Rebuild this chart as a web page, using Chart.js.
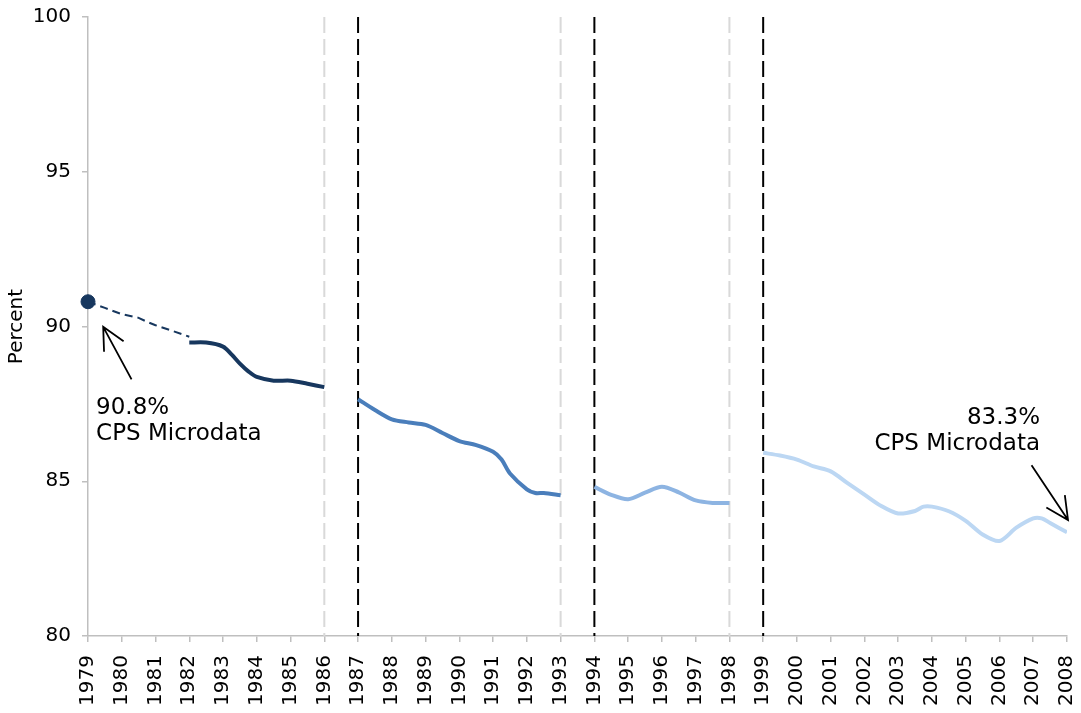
<!DOCTYPE html>
<html lang="en">
<head>
  <meta charset="UTF-8">
  <title>Percent, 1979-2008</title>
  <script src="https://cdn.jsdelivr.net/npm/chart.js@4.4.1/dist/chart.umd.min.js"></script>
  <style>
    body { margin: 0; background: #fff; }
    #wrap { width: 1081px; height: 713px; }
  </style>
</head>
<body>
  <div id="wrap"><canvas id="chart" width="1081" height="713"></canvas></div>
  <script>
    // year ticks along the bottom
    const years = [1979, 1980, 1981, 1982, 1983, 1984, 1985, 1986, 1987, 1988, 1989, 1990, 1991, 1992, 1993,
                   1994, 1995, 1996, 1997, 1998, 1999, 2000, 2001, 2002, 2003, 2004, 2005, 2006, 2007, 2008];
    const yTicks = [80, 85, 90, 95, 100];

    // 1979-1982 estimate (dashed) and the 1979 starting point
    const estYears = [1979, 1979.5, 1980, 1980.5, 1980.75, 1981, 1981.5, 1982];
    const estVals  = [90.8, 90.6, 90.4, 90.28, 90.15, 90.04, 89.86, 89.67];
    const startYear = [1979];
    const startVal  = [90.8];

    // segment 1982-1986
    const seg1Years = [1982, 1982.5, 1983, 1983.25, 1983.5, 1983.75, 1984, 1984.5, 1985, 1985.5, 1986];
    const seg1Vals  = [89.48, 89.48, 89.35, 89.1, 88.8, 88.55, 88.37, 88.25, 88.25, 88.15, 88.04];

    // segment 1987-1993
    const seg2Years = [1987, 1987.5, 1988, 1988.5, 1989, 1989.5, 1990, 1990.5, 1991, 1991.25, 1991.5, 1992, 1992.25, 1992.5, 1993];
    const seg2Vals  = [87.65, 87.3, 87.0, 86.9, 86.82, 86.56, 86.3, 86.17, 85.95, 85.7, 85.25, 84.74, 84.62, 84.62, 84.55];

    // segment 1994-1998
    const seg3Years = [1994, 1994.5, 1995, 1995.5, 1996, 1996.5, 1997, 1997.5, 1998];
    const seg3Vals  = [84.82, 84.56, 84.42, 84.63, 84.82, 84.64, 84.38, 84.3, 84.3];

    // segment 1999-2008
    const seg4Years = [1999, 1999.5, 2000, 2000.5, 2001, 2001.5, 2002, 2002.5, 2003, 2003.5, 2003.75, 2004,
                       2004.5, 2005, 2005.5, 2006, 2006.5, 2007, 2007.25, 2007.5, 2008];
    const seg4Vals  = [85.92, 85.83, 85.7, 85.48, 85.32, 84.94, 84.57, 84.2, 83.96, 84.04, 84.18, 84.18,
                       84.03, 83.72, 83.28, 83.07, 83.5, 83.8, 83.8, 83.65, 83.35];

    // vertical break markers
    const grayBreaks  = [1986, 1993, 1998];
    const blackBreaks = [1987, 1994, 1999];

    // callouts: text anchor and arrow tail/head, in data units
    const notes = [
      { lines: ['90.8%', 'CPS Microdata'], x: 1979.24, y: [87.37, 86.53], align: 'left',
        tail: [1980.29, 88.29], head: [1979.45, 89.99] },
      { lines: ['83.3%', 'CPS Microdata'], x: 2007.2, y: [87.04, 86.2], align: 'right',
        tail: [2006.95, 85.52], head: [2008.03, 83.75] }
    ];

    const pts = (xs, ys) => xs.map((x, i) => ({ x: x, y: ys[i] }));
    const font = 'DejaVu Sans';

    const datasets = [
      { data: pts(startYear, startVal), borderColor: '#17375e', backgroundColor: '#17375e',
        pointRadius: 7, showLine: false, clip: false },
      { data: pts(estYears, estVals), borderColor: '#17375e', borderWidth: 2, borderDash: [8, 5],
        pointRadius: 0, tension: 0 },
      { data: pts(seg1Years, seg1Vals), borderColor: '#17375e', borderWidth: 4, pointRadius: 0, tension: 0.3 },
      { data: pts(seg2Years, seg2Vals), borderColor: '#4a7ebb', borderWidth: 4, pointRadius: 0, tension: 0.3 },
      { data: pts(seg3Years, seg3Vals), borderColor: '#8db4e2', borderWidth: 4, pointRadius: 0, tension: 0.3 },
      { data: pts(seg4Years, seg4Vals), borderColor: '#bcd7f3', borderWidth: 4, pointRadius: 0, tension: 0.3 }
    ];
    grayBreaks.forEach(yr => datasets.push({
      data: [{ x: yr, y: 100 }, { x: yr, y: 80 }], borderColor: '#d9d9d9', borderWidth: 2,
      borderDash: [16, 6], pointRadius: 0
    }));
    blackBreaks.forEach(yr => datasets.push({
      data: [{ x: yr, y: 100 }, { x: yr, y: 80 }], borderColor: '#000', borderWidth: 2,
      borderDash: [16, 6], pointRadius: 0
    }));

    function arrow(ctx, x0, y0, x1, y1) {
      const a = Math.atan2(y0 - y1, x0 - x1);
      const len = 25, spread = 0.46;
      ctx.beginPath();
      ctx.moveTo(x0, y0);
      ctx.lineTo(x1, y1);
      ctx.moveTo(x1 + len * Math.cos(a - spread), y1 + len * Math.sin(a - spread));
      ctx.lineTo(x1, y1);
      ctx.lineTo(x1 + len * Math.cos(a + spread), y1 + len * Math.sin(a + spread));
      ctx.stroke();
    }

    const callouts = {
      id: 'callouts',
      afterDatasetsDraw(chart) {
        const ctx = chart.ctx, xs = chart.scales.x, ys = chart.scales.y;
        ctx.save();
        ctx.strokeStyle = '#000';
        ctx.lineWidth = 1.8;
        ctx.fillStyle = '#000';
        ctx.font = '23px "' + font + '"';
        ctx.textBaseline = 'middle';
        notes.forEach(n => {
          ctx.textAlign = n.align;
          n.lines.forEach((t, i) => ctx.fillText(t, xs.getPixelForValue(n.x), ys.getPixelForValue(n.y[i])));
          arrow(ctx, xs.getPixelForValue(n.tail[0]), ys.getPixelForValue(n.tail[1]),
                xs.getPixelForValue(n.head[0]), ys.getPixelForValue(n.head[1]));
        });
        ctx.restore();
      }
    };

    new Chart(document.getElementById('chart'), {
      type: 'line',
      data: { datasets: datasets },
      plugins: [callouts],
      options: {
        responsive: false,
        animation: false,
        layout: { padding: { top: 17, right: 14, left: 0, bottom: 0 } },
        plugins: { legend: { display: false }, tooltip: { enabled: false } },
        scales: {
          x: {
            type: 'linear', min: 1979, max: 2008,
            afterBuildTicks: s => { s.ticks = years.map(v => ({ value: v })); },
            afterFit: s => { s.height = 77; s.paddingLeft = 0; s.paddingRight = 0; },
            border: { color: '#bfbfbf', width: 1.5 },
            grid: { drawOnChartArea: false, tickLength: 6, color: '#bfbfbf', lineWidth: 1.5 },
            ticks: { autoSkip: false, minRotation: 90, maxRotation: 90, padding: 13, color: '#000',
                     font: { family: font, size: 20 }, callback: v => String(v) }
          },
          y: {
            min: 80, max: 100,
            afterBuildTicks: s => { s.ticks = yTicks.map(v => ({ value: v })); },
            afterFit: s => { s.width = 88; s.paddingTop = 0; s.paddingBottom = 0; },
            border: { color: '#bfbfbf', width: 1.5 },
            grid: { drawOnChartArea: false, tickLength: 6, color: '#bfbfbf', lineWidth: 1.5 },
            ticks: { padding: 11, color: '#000', font: { family: font, size: 20 } },
            title: { display: true, text: 'Percent', color: '#000', padding: { top: 5, bottom: 0 },
                     font: { family: font, size: 20 } }
          }
        }
      }
    });
  </script>
</body>
</html>
